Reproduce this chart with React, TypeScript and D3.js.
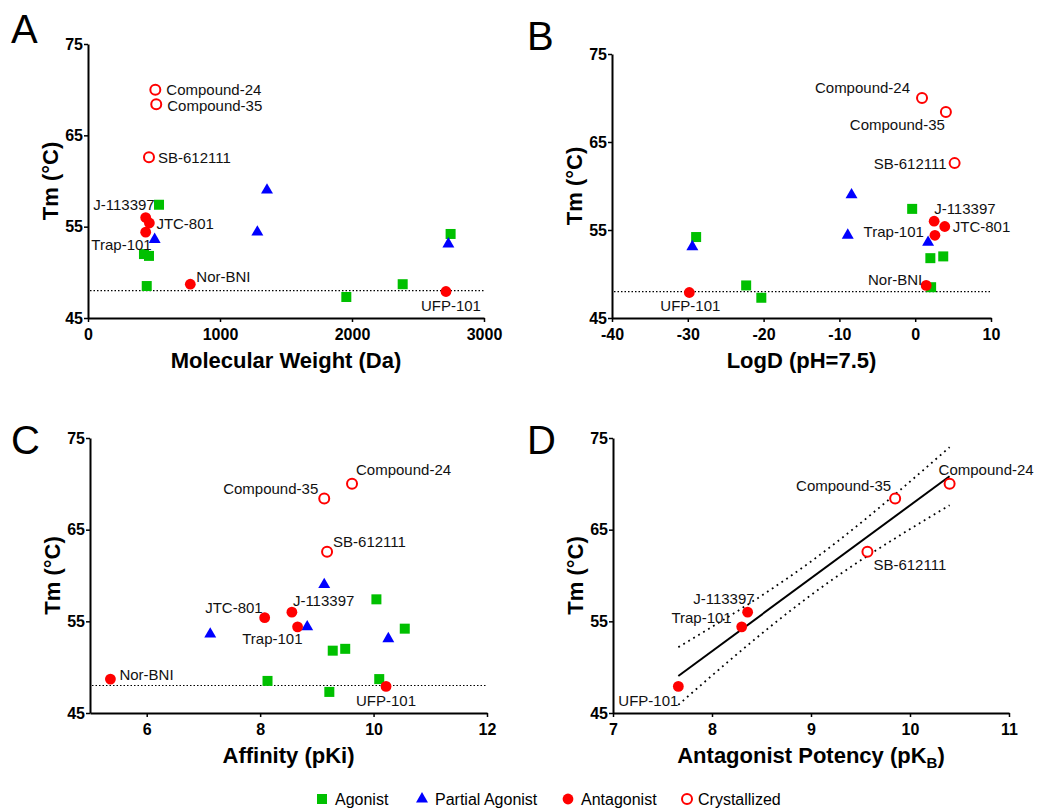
import React, { useEffect, useRef } from 'react'
import * as d3 from 'd3'

// one entry per compound, same order in every array
const compoundNames = ['', '', '', '', '', '', '', '', '', '', '', 'J-113397', 'JTC-801', 'Trap-101', 'Nor-BNI', 'UFP-101', 'Compound-24', 'Compound-35', 'SB-612111']
const compoundTypes = [
  'Agonist', 'Agonist', 'Agonist', 'Agonist', 'Agonist', 'Agonist', 'Agonist',
  'Partial Agonist', 'Partial Agonist', 'Partial Agonist', 'Partial Agonist',
  'Antagonist', 'Antagonist', 'Antagonist', 'Antagonist', 'Antagonist',
  'Crystallized', 'Crystallized', 'Crystallized'
]
const tmValues = [57.4, 54.2, 51.8, 52.0, 48.5, 48.7, 47.3, 59.0, 54.4, 53.6, 53.1, 56.0, 55.4, 54.4, 48.7, 47.9, 70.0, 68.4, 62.6]
const molecularWeight = [538, 2747, 462, 424, 445, 2384, 1957, 1356, 1283, 505, 2730, 437, 465, 437, 775, 2712, 510, 517, 462]
const logD = [-0.4, -28.9, 2.0, 3.7, 2.1, -22.3, -20.3, -8.4, -8.9, 1.7, -29.4, 2.5, 3.9, 2.6, 1.45, -29.8, 0.9, 4.05, 5.2]
const pKi = [10.05, 10.55, 9.28, 9.5, 8.13, 10.1, 9.22, 9.13, 8.83, 7.12, 10.26, 8.56, 8.08, 8.66, 5.36, 10.22, 9.62, 9.13, 9.18]
const pKB = [null, null, null, null, null, null, null, null, null, null, null, 8.36, null, 8.30, null, 7.66, 10.40, 9.85, 9.57]

const tmThreshold = 48
const tmTicks = [45, 55, 65, 75]
const mwTicks = [0, 1000, 2000, 3000]
const logDTicks = [-40, -30, -20, -10, 0, 10]
const pKiTicks = [6, 8, 10, 12]
const pKBTicks = [7, 8, 9, 10, 11]
const legendItems = ['Agonist', 'Partial Agonist', 'Antagonist', 'Crystallized']

const FONT = '"Liberation Sans", Arial, sans-serif'
const GREEN = '#00c000'
const BLUE = '#0000ff'
const RED = '#ff0000'

const panels = [
  {
    letter: 'A', letterAt: [11, 43], box: { x0: 88, x1: 484, y0: 44, y1: 318 },
    values: molecularWeight, domain: [0, 3000], ticks: mwTicks, title: 'Molecular Weight (Da)', threshold: true,
    labels: {
      'Compound-24': ['start', 11, 0], 'Compound-35': ['start', 11, 1.5], 'SB-612111': ['start', 9, 0],
      'J-113397': ['end', 9, -13], 'JTC-801': ['start', 7, 0], 'Trap-101': ['end', 6, 12],
      'Nor-BNI': ['start', 6, -8], 'UFP-101': ['end', 35, 14]
    }
  },
  {
    letter: 'B', letterAt: [527, 50], box: { x0: 612, x1: 991, y0: 54, y1: 318 },
    values: logD, domain: [-40, 10], ticks: logDTicks, title: 'LogD (pH=7.5)', threshold: true,
    labels: {
      'Compound-24': ['end', -12, -11], 'Compound-35': ['end', -1, 12], 'SB-612111': ['end', -8, 0],
      'J-113397': ['start', 0, -13], 'JTC-801': ['start', 8, 0], 'Trap-101': ['end', -11, -4],
      'Nor-BNI': ['end', -4, -6], 'UFP-101': ['middle', 1, 13]
    }
  },
  {
    letter: 'C', letterAt: [11, 454], box: { x0: 90, x1: 487, y0: 438, y1: 713 },
    values: pKi, domain: [5, 12], ticks: pKiTicks, title: 'Affinity (pKi)', threshold: true,
    labels: {
      'Compound-24': ['start', 4, -14], 'Compound-35': ['end', -6, -10], 'SB-612111': ['start', 6, -10],
      'JTC-801': ['end', -2, -10], 'J-113397': ['start', 1, -12], 'Trap-101': ['end', 5, 12],
      'Nor-BNI': ['start', 9, -5], 'UFP-101': ['middle', 0, 14]
    }
  },
  {
    letter: 'D', letterAt: [527, 454], box: { x0: 613, x1: 1009, y0: 438, y1: 713 },
    values: pKB, domain: [7, 11], ticks: pKBTicks, title: 'Antagonist Potency (pK', threshold: false, fit: true,
    labels: {
      'Compound-24': ['start', -11, -14], 'Compound-35': ['end', -4, -13], 'SB-612111': ['start', 6, 13],
      'J-113397': ['end', 7, -14], 'Trap-101': ['end', -10, -9], 'UFP-101': ['end', 0, 14]
    }
  }
]

function drawMarker(g, type, cx, cy) {
  if (type === 'Agonist') {
    g.append('rect').attr('x', cx - 5).attr('y', cy - 5).attr('width', 10).attr('height', 10).attr('fill', GREEN)
  } else if (type === 'Partial Agonist') {
    g.append('path').attr('d', d3.symbol(d3.symbolTriangle, 62)()).attr('transform', `translate(${cx},${cy})`).attr('fill', BLUE)
  } else if (type === 'Antagonist') {
    g.append('circle').attr('cx', cx).attr('cy', cy).attr('r', 5.4).attr('fill', RED)
  } else {
    g.append('circle').attr('cx', cx).attr('cy', cy).attr('r', 5).attr('fill', '#fff').attr('stroke', RED).attr('stroke-width', 2)
  }
}

function styleAxis(a) {
  a.select('.domain').attr('stroke-width', 2)
  a.selectAll('.tick line').attr('stroke-width', 1.5)
  a.selectAll('.tick text').attr('font-family', FONT).attr('font-size', 16).attr('font-weight', 'bold').attr('fill', '#000')
}

function drawPanel(svg, p) {
  const { box } = p
  const x = d3.scaleLinear().domain(p.domain).range([box.x0, box.x1])
  const y = d3.scaleLinear().domain([45, 75]).range([box.y1, box.y0])
  const g = svg.append('g')

  g.append('text').attr('x', p.letterAt[0]).attr('y', p.letterAt[1])
    .attr('font-family', FONT).attr('font-size', 40).text(p.letter)

  // axes (plain hyphen for negatives, like the original)
  const xa = g.append('g').attr('transform', `translate(0,${box.y1})`)
    .call(d3.axisBottom(x).tickValues(p.ticks).tickFormat(d => String(d)).tickSize(4).tickSizeOuter(0).tickPadding(7))
  styleAxis(xa)
  const ya = g.append('g').attr('transform', `translate(${box.x0},0)`)
    .call(d3.axisLeft(y).tickValues(tmTicks).tickSize(4).tickSizeOuter(0).tickPadding(1))
  styleAxis(ya)

  const xt = g.append('text').attr('x', (box.x0 + box.x1) / 2).attr('y', box.y1 + 50)
    .attr('text-anchor', 'middle').attr('font-family', FONT).attr('font-size', 22).attr('font-weight', 'bold')
  xt.append('tspan').text(p.title)
  if (p.fit) {
    xt.append('tspan').attr('font-size', 15).attr('dy', 5).text('B')
    xt.append('tspan').attr('dy', -5).text(')')
  }
  g.append('text').attr('transform', `translate(${box.x0 - 30},${(box.y0 + box.y1) / 2}) rotate(-90)`)
    .attr('text-anchor', 'middle').attr('font-family', FONT).attr('font-size', 22).attr('font-weight', 'bold')
    .text('Tm (°C)')

  if (p.threshold) {
    g.append('line').attr('x1', box.x0 + 2).attr('x2', box.x1).attr('y1', y(tmThreshold)).attr('y2', y(tmThreshold))
      .attr('stroke', '#000').attr('stroke-width', 1.2).attr('stroke-dasharray', '1.5,2')
  }

  const idx = d3.range(tmValues.length).filter(i => p.values[i] != null)

  if (p.fit) {
    // linear regression with 95% confidence band
    const xs = idx.map(i => p.values[i])
    const ys = idx.map(i => tmValues[i])
    const n = xs.length
    const mx = d3.mean(xs), my = d3.mean(ys)
    const sxx = d3.sum(xs, v => (v - mx) ** 2)
    const slope = d3.sum(xs, (v, k) => (v - mx) * (ys[k] - my)) / sxx
    const icpt = my - slope * mx
    const se = Math.sqrt(d3.sum(xs, (v, k) => (ys[k] - (icpt + slope * v)) ** 2) / (n - 2))
    const tcrit = 2.776
    const [lo, hi] = d3.extent(xs)
    const grid = d3.range(61).map(k => lo + (hi - lo) * k / 60)
    const half = v => tcrit * se * Math.sqrt(1 / n + (v - mx) ** 2 / sxx)
    const line = d3.line().x(d => x(d[0])).y(d => y(d[1]))
    g.append('path').attr('d', line(grid.map(v => [v, icpt + slope * v + half(v)])))
      .attr('fill', 'none').attr('stroke', '#000').attr('stroke-width', 1.8).attr('stroke-dasharray', '1.8,4')
    g.append('path').attr('d', line(grid.map(v => [v, icpt + slope * v - half(v)])))
      .attr('fill', 'none').attr('stroke', '#000').attr('stroke-width', 1.8).attr('stroke-dasharray', '1.8,4')
    g.append('path').attr('d', line([[lo, icpt + slope * lo], [hi, icpt + slope * hi]]))
      .attr('fill', 'none').attr('stroke', '#000').attr('stroke-width', 2)
  }

  idx.forEach(i => drawMarker(g, compoundTypes[i], x(p.values[i]), y(tmValues[i])))

  Object.entries(p.labels).forEach(([name, [anchor, dx, dy]]) => {
    const i = compoundNames.indexOf(name)
    g.append('text').attr('x', x(p.values[i]) + dx).attr('y', y(tmValues[i]) + dy)
      .attr('text-anchor', anchor).attr('dominant-baseline', 'central')
      .attr('font-family', FONT).attr('font-size', 15).attr('fill', '#111').text(name)
  })
}

function drawLegend(svg) {
  const slots = [322, 422, 568, 687]
  const cy = 799
  legendItems.forEach((name, k) => {
    const g = svg.append('g')
    drawMarker(g, name, slots[k], cy)
    g.append('text').attr('x', slots[k] + (k === 3 ? 11 : 13)).attr('y', cy).attr('dominant-baseline', 'central')
      .attr('font-family', FONT).attr('font-size', 16).text(name)
  })
}

export default function App() {
  const svgRef = useRef(null)

  useEffect(() => {
    const svg = d3.select(svgRef.current)
    svg.selectAll('*').remove()
    panels.forEach(p => drawPanel(svg, p))
    drawLegend(svg)
  }, [])

  return (
    <svg ref={svgRef} width={1037} height={808}
      style={{ position: 'absolute', left: 0, top: 0, background: '#fff' }} />
  )
}
